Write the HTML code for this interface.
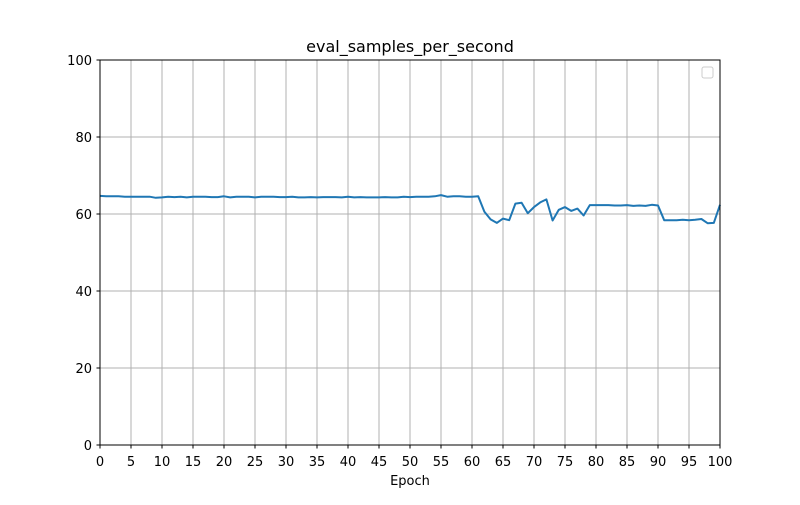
<!DOCTYPE html>
<html><head><meta charset="utf-8"><style>
body{margin:0;background:#fff;font-family:"Liberation Sans","DejaVu Sans",sans-serif}
svg text{font-family:"DejaVu Sans","Liberation Sans",sans-serif;font-size:13px;fill:#000}
</style></head><body>
<svg id="chart" width="800" height="500">
<rect width="800" height="500" fill="#fff"/>
<text x="410" y="52" text-anchor="middle" style="font-size:16px">eval_samples_per_second</text>
<g id="grid"></g><g id="ticks"></g>
<path id="line" fill="none" stroke="#1f77b4" stroke-width="2" stroke-linejoin="round"/>
<rect x="100" y="60" width="620" height="385" fill="none" stroke="#000" stroke-width="1"/>
<rect x="702" y="67" width="11" height="11" rx="2" fill="#fff" stroke="#ccc"/>
<text x="410" y="485" text-anchor="middle">Epoch</text>
</svg>
<script>
const epochs=[];for(let i=0;i<=100;i++)epochs.push(i);
const values=[64.7,64.6,64.6,64.6,64.5,64.5,64.5,64.5,64.5,64.2,64.3,64.5,64.4,64.5,64.3,64.5,64.5,64.5,64.4,64.4,64.6,64.3,64.5,64.5,64.5,64.3,64.5,64.5,64.5,64.4,64.4,64.5,64.3,64.3,64.4,64.3,64.4,64.4,64.4,64.3,64.5,64.3,64.4,64.3,64.3,64.3,64.4,64.3,64.3,64.5,64.4,64.5,64.5,64.5,64.6,64.9,64.5,64.6,64.6,64.5,64.5,64.6,60.6,58.6,57.7,58.8,58.4,62.7,62.9,60.2,61.8,63.0,63.8,58.3,61.1,61.8,60.8,61.4,59.6,62.3,62.3,62.3,62.3,62.2,62.2,62.3,62.1,62.2,62.1,62.4,62.2,58.4,58.4,58.4,58.5,58.4,58.5,58.7,57.6,57.7,62.4];
const xTicks=[0,5,10,15,20,25,30,35,40,45,50,55,60,65,70,75,80,85,90,95,100];
const yTicks=[0,20,40,60,80,100];
const X=v=>100+v*6.2, Y=v=>445-v*3.85;
const ns="http://www.w3.org/2000/svg";
const g=document.getElementById('grid'),t=document.getElementById('ticks');
function mk(p,tag,a){const e=document.createElementNS(ns,tag);for(const k in a)e.setAttribute(k,a[k]);p.appendChild(e);return e;}
xTicks.forEach(v=>{
 const l=mk(g,'line',{x1:X(v),x2:X(v),y1:60,y2:445,stroke:'#b0b0b0','stroke-width':1});
 
 
 mk(t,'line',{x1:X(v),x2:X(v),y1:445,y2:448.5,stroke:'#000'});
 const tx=mk(t,'text',{x:X(v),y:466,'text-anchor':'middle'});tx.textContent=v;
 
 
});
yTicks.forEach(v=>{
 const l=mk(g,'line',{x1:100,x2:720,y1:Y(v),y2:Y(v),stroke:'#b0b0b0','stroke-width':1});
 
 
 mk(t,'line',{x1:96.5,x2:100,y1:Y(v),y2:Y(v),stroke:'#000'});
 const tx=mk(t,'text',{x:92,y:Y(v)+5,'text-anchor':'end'});tx.textContent=v;
 
 
});
document.getElementById('line').setAttribute('d',values.map((v,i)=>(i?'L':'M')+X(epochs[i]).toFixed(1)+','+Y(v).toFixed(1)).join(''));
</script>
</body></html>
